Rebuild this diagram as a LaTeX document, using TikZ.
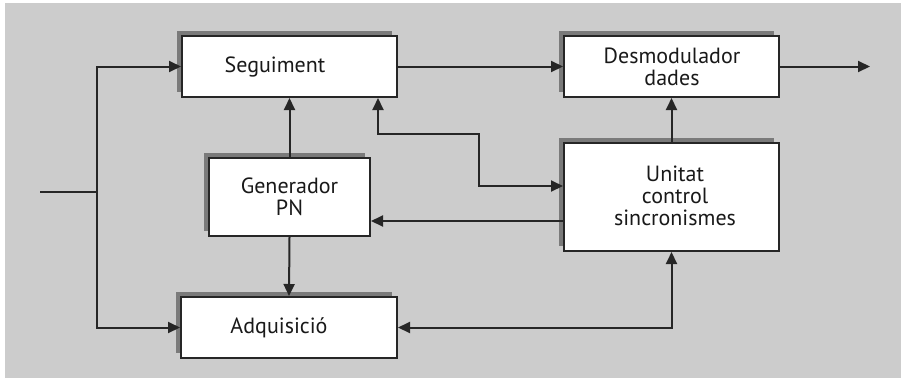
\documentclass[tikz,border=0pt]{standalone}
\usepackage{fontspec}
\setmainfont{PT Sans}
\usetikzlibrary{arrows.meta,shadows}
\definecolor{panel}{HTML}{CCCCCC}
\definecolor{ink}{HTML}{262626}
\definecolor{shade}{HTML}{7A7A7A}
\begin{document}
\begin{tikzpicture}[x=1pt,y=-1pt,
  block/.style={draw=ink,line width=2pt,fill=white,inner sep=0pt,
    drop shadow={shadow xshift=-5pt,shadow yshift=5pt,fill=shade,opacity=1}},
  label/.style={font=\fontsize{22}{22}\selectfont,align=center,text=black!90},
  wire/.style={draw=ink,line width=2pt},
  arr/.style={wire,-{Triangle[length=12pt,width=11pt]}},
  biarr/.style={wire,{Triangle[length=12pt,width=11pt]}-{Triangle[length=12pt,width=11pt]}}]
  % canvas
  \useasboundingbox (0,0) rectangle (901,378);
  \fill[panel] (5,3) rectangle (901,378);

  % blocks
  \node[block,minimum width=215pt,minimum height=61pt] (seg) at (289.5,66.5) {};
  \node[block,minimum width=215pt,minimum height=61pt] (des) at (671.5,66.5) {};
  \node[block,minimum width=161pt,minimum height=78pt] (gen) at (289.5,197) {};
  \node[block,minimum width=215pt,minimum height=108pt] (uni) at (671.5,197) {};
  \node[block,minimum width=216pt,minimum height=61pt] (adq) at (289,327.5) {};

  % block captions
  \node[label] (segt) at (275,66.5) {Seguiment};
  \node[label] (dest) at (672,66.5) {Desmodulador\\dades};
  \node[label] (gent) at (289.5,197) {Generador\\PN};
  \node[label] (unit) at (675,196) {Unitat\\control\\sincronismes};
  \node[label] (adqt) at (279,328) {Adquisició};

  % input and feed lines
  \coordinate (in) at (40,192);
  \coordinate (j) at (97,192);
  \coordinate (out) at (870,66.5);
  \coordinate (k) at (479,134);
  \draw[wire] (in) -- (j);
  \draw[arr] (j) |- (seg.west);
  \draw[arr] (j) |- (adq.west);
  \draw[arr] (seg.east) -- (des.west);
  \draw[arr] (des.east) -- (out);
  \draw[arr] (gen.north) -- (seg.south);
  \draw[arr] (gen.south) -- (adq.north);
  \draw[arr] (uni.north) -- (des.south);
  \draw[biarr] ([yshift=11pt]uni.west) -| (k) -| ([xshift=88.5pt]seg.south);
  \draw[arr] ([yshift=-24pt]uni.west) -- ([yshift=-24pt]gen.east);
  \draw[biarr] (adq.east) -| (uni.south);
\end{tikzpicture}
\end{document}
